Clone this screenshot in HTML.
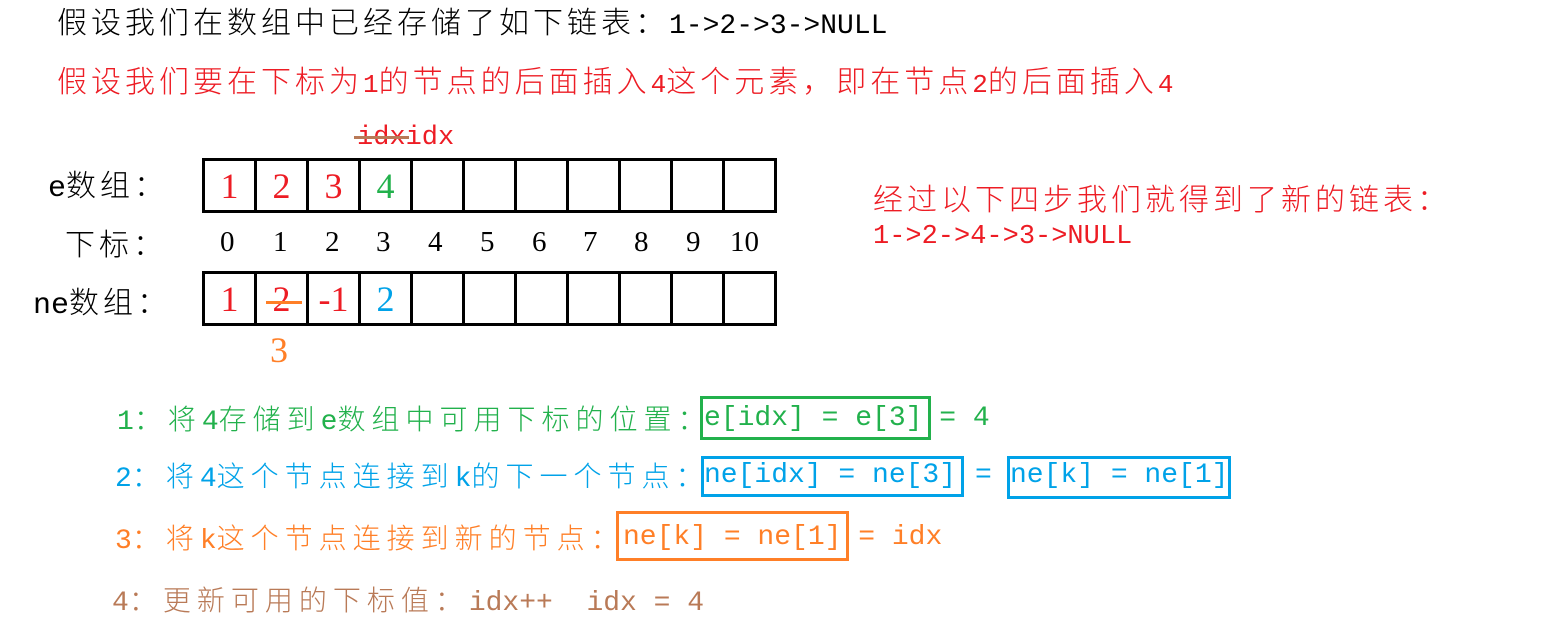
<!DOCTYPE html>
<html><head><meta charset="utf-8"><style>
body{margin:0;width:1554px;height:635px;background:#fff;position:relative;overflow:hidden;font-family:"Liberation Mono","Noto Sans CJK SC",monospace;}
.t{position:absolute;white-space:nowrap;line-height:1;}
.c{font-family:"Noto Sans CJK SC",sans-serif;font-weight:300;letter-spacing:4px;}
.s .c{letter-spacing:6px;}
.m{font-family:"Liberation Mono",monospace;}
table{position:absolute;border-collapse:collapse;left:202px;}
td{border:3px solid #000;width:49px;height:49px;padding:0;text-align:center;font-family:"Liberation Serif",serif;font-size:36px;line-height:1;}
.box{position:absolute;border:3px solid;box-sizing:border-box;}
</style></head><body>
<div class="t" style="left:57px;top:5px;font-size:30px;color:#000"><span class="c" style="letter-spacing:4px">假设我们在数组中已经存储了如下链表：</span><span class="m" style="font-size:28px">1-&gt;2-&gt;3-&gt;NULL</span></div>
<div class="t" style="left:57px;top:64px;font-size:30px;color:#ed1c24"><span class="c">假设我们要在下标为</span><span class="m" style="font-size:26px">1</span><span class="c">的节点的后面插入</span><span class="m" style="font-size:26px">4</span><span class="c">这个元素，即在节点</span><span class="m" style="font-size:26px">2</span><span class="c">的后面插入</span><span class="m" style="font-size:26px">4</span></div>

<div class="t m" style="left:357px;top:125px;font-size:27px;color:#ed1c24"><span style="position:relative">idx<span style="position:absolute;left:-3px;right:-3px;top:13px;height:3px;background:#b97a57"></span></span>idx</div>

<div class="t" style="left:48px;top:168px;font-size:30px"><span class="m">e</span><span class="c">数组：</span></div>
<div class="t c" style="left:65px;top:227px;font-size:30px">下标：</div>
<div class="t" style="left:33px;top:285px;font-size:30px"><span class="m">ne</span><span class="c">数组：</span></div>

<table style="top:158px"><tr>
<td style="color:#ed1c24">1</td><td style="color:#ed1c24">2</td><td style="color:#ed1c24">3</td><td style="color:#22b14c">4</td><td></td><td></td><td></td><td></td><td></td><td></td><td></td></tr></table>

<div class="t" style="left:202px;top:228px;font-family:'Liberation Serif',serif;font-size:29px">
<span style="position:absolute;left:18px">0</span><span style="position:absolute;left:71px">1</span><span style="position:absolute;left:123px">2</span><span style="position:absolute;left:174px">3</span><span style="position:absolute;left:226px">4</span><span style="position:absolute;left:278px">5</span><span style="position:absolute;left:330px">6</span><span style="position:absolute;left:381px">7</span><span style="position:absolute;left:432px">8</span><span style="position:absolute;left:484px">9</span><span style="position:absolute;left:528px">10</span></div>

<table style="top:271px"><tr>
<td style="color:#ed1c24">1</td><td style="color:#ed1c24;position:relative">2<span style="position:absolute;left:9px;width:36px;top:27px;height:3px;background:#ff7f27"></span></td><td style="color:#ed1c24">-1</td><td style="color:#00a2e8">2</td><td></td><td></td><td></td><td></td><td></td><td></td><td></td></tr></table>
<div class="t" style="left:270px;top:332px;font-family:'Liberation Serif',serif;font-size:36px;color:#ff7f27">3</div>

<div class="t c" style="left:873px;top:182px;font-size:30px;color:#ed1c24">经过以下四步我们就得到了新的链表：</div>
<div class="t m" style="left:873px;top:224px;font-size:27px;color:#ed1c24">1-&gt;2-&gt;4-&gt;3-&gt;NULL</div>

<div class="t s" style="left:117px;top:404px;font-size:28px;color:#22b14c"><span class="m">1</span><span class="c">：将</span><span class="m">4</span><span class="c">存储到</span><span class="m">e</span><span class="c">数组中可用下标的位置：</span></div>
<div class="box" style="left:700px;top:396px;width:231px;height:44px;border-color:#22b14c"></div>
<div class="t m" style="left:704px;top:405px;font-size:28px;color:#22b14c">e[idx] = e[3] = 4</div>

<div class="t s" style="left:115px;top:461px;font-size:28px;color:#00a2e8"><span class="m">2</span><span class="c">：将</span><span class="m">4</span><span class="c">这个节点连接到</span><span class="m">k</span><span class="c">的下一个节点：</span></div>
<div class="box" style="left:701px;top:456px;width:263px;height:41px;border-color:#00a2e8"></div>
<div class="box" style="left:1007px;top:456px;width:224px;height:43px;border-color:#00a2e8"></div>
<div class="t m" style="left:704px;top:462px;font-size:28px;color:#00a2e8">ne[idx] = ne[3]</div>
<div class="t m" style="left:975px;top:462px;font-size:28px;color:#00a2e8">=</div>
<div class="t m" style="left:1010px;top:462px;font-size:28px;color:#00a2e8">ne[k] = ne[1]</div>

<div class="t s" style="left:115px;top:523px;font-size:28px;color:#ff7f27"><span class="m">3</span><span class="c">：将</span><span class="m">k</span><span class="c">这个节点连接到新的节点：</span></div>
<div class="box" style="left:616px;top:511px;width:233px;height:50px;border-color:#ff7f27"></div>
<div class="t m" style="left:623px;top:524px;font-size:28px;color:#ff7f27">ne[k] = ne[1] = idx</div>

<div class="t s" style="left:112px;top:585px;font-size:28px;color:#b97a57"><span class="m">4</span><span class="c">：更新可用的下标值：</span><span class="m">idx++&nbsp; idx = 4</span></div>
</body></html>
